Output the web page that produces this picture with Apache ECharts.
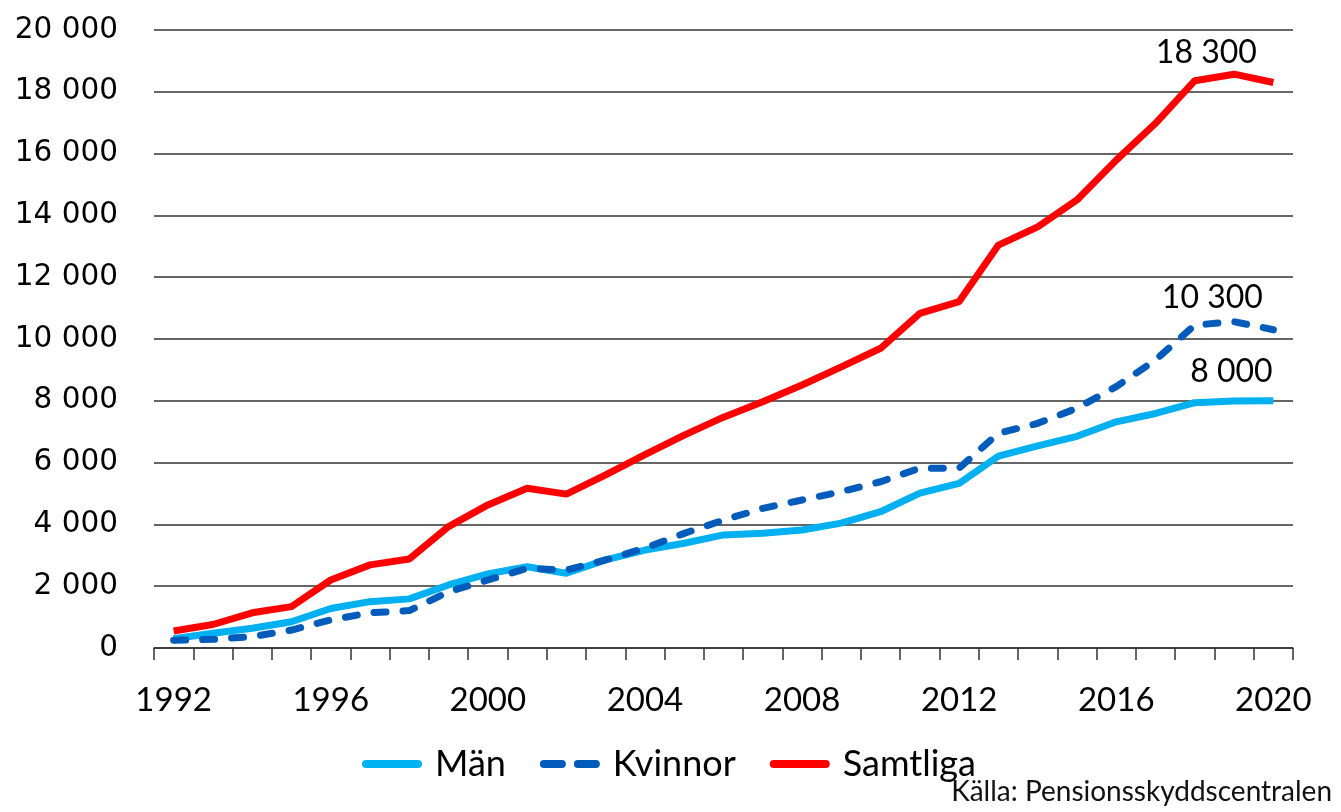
<!DOCTYPE html>
<html>
<head>
<meta charset="utf-8">
<script src="https://cdn.jsdelivr.net/npm/echarts@6/dist/echarts.min.js"></script>
<style>
html,body{margin:0;padding:0;background:#fff;}
#chart{width:1341px;height:812px;}
</style>
</head>
<body>
<div id="chart"></div>
<script>
const years = ['1992','1993','1994','1995','1996','1997','1998','1999','2000','2001','2002','2003','2004','2005','2006','2007','2008','2009','2010','2011','2012','2013','2014','2015','2016','2017','2018','2019','2020'];
const man = [300, 475, 640, 850, 1280, 1500, 1590, 2040, 2400, 2630, 2420, 2850, 3170, 3390, 3660, 3710, 3820, 4040, 4410, 5010, 5330, 6210, 6540, 6850, 7320, 7590, 7940, 7990, 8000];
const kvinnor = [250, 280, 370, 580, 910, 1140, 1210, 1820, 2200, 2580, 2520, 2850, 3230, 3710, 4140, 4520, 4790, 5060, 5380, 5820, 5820, 6950, 7270, 7760, 8460, 9320, 10450, 10560, 10300];
const samtliga = [550, 760, 1140, 1340, 2200, 2690, 2880, 3930, 4630, 5170, 4980, 5600, 6260, 6890, 7470, 7970, 8510, 9100, 9700, 10830, 11210, 13040, 13630, 14500, 15790, 16980, 18360, 18570, 18300];
const seriesNames = ['Män', 'Kvinnor', 'Samtliga'];
const endLabels = ['8 000', '10 300', '18 300'];
const sourceText = 'Källa: Pensionsskyddscentralen';

const chart = echarts.init(document.getElementById('chart'));
const fmt = v => String(v).replace(/\B(?=(\d{3})+(?!\d))/g, ' ');
const lbl = (text, off) => ({
  show: true, formatter: text, distance: 0, offset: off,
  align: 'center', verticalAlign: 'middle',
  fontFamily: 'Lato', fontSize: 32, color: '#000'
});
const solidIcon = 'path://M4,0 H56 A4,4 0 0 1 56,8 H4 A4,4 0 0 1 4,0 Z';
const dashIcon = 'path://M4,0 H22 A4,4 0 0 1 22,8 H4 A4,4 0 0 1 4,0 Z M38,0 H56 A4,4 0 0 1 56,8 H38 A4,4 0 0 1 38,0 Z';
chart.setOption({
  animation: false,
  backgroundColor: '#fff',
  title: {
    text: sourceText, right: 4, bottom: 1,
    textStyle: {fontFamily: 'Lato', fontSize: 28, fontWeight: 'normal', color: '#111'}
  },
  legend: {
    left: 362, top: 744, padding: 0,
    itemWidth: 60, itemHeight: 8, itemGap: 34,
    textStyle: {fontFamily: 'Lato', fontSize: 36, color: '#000', lineHeight: 40, padding: [0, 0, 0, 8]},
    data: [
      {name: seriesNames[0], icon: solidIcon, itemStyle: {color: '#00B0F0'}},
      {name: seriesNames[1], icon: dashIcon, itemStyle: {color: '#005BBB'}},
      {name: seriesNames[2], icon: solidIcon, itemStyle: {color: '#FF0000'}}
    ]
  },
  grid: {left: 154, right: 48, top: 30, bottom: 164, containLabel: false},
  xAxis: {
    type: 'category', data: years, boundaryGap: true,
    axisLine: {lineStyle: {color: '#333', width: 1.5}},
    axisTick: {show: true, interval: 0, length: 12, lineStyle: {color: '#333', width: 1.5}},
    axisLabel: {interval: 3, margin: 36, fontFamily: 'Lato', fontSize: 33, color: '#000'},
    splitLine: {show: false}
  },
  yAxis: {
    type: 'value', min: 0, max: 20000, interval: 2000,
    axisLine: {show: false}, axisTick: {show: false},
    axisLabel: {margin: 36, fontFamily: 'DejaVu Sans', fontSize: 29.5, color: '#000', formatter: fmt},
    splitLine: {show: true, lineStyle: {color: '#333', width: 1.5}}
  },
  series: [
    {name: seriesNames[0], type: 'line', data: man, symbol: 'none', z: 2,
     lineStyle: {color: '#00B0F0', width: 7}, itemStyle: {color: '#00B0F0'},
     endLabel: lbl(endLabels[0], [-42, -29])},
    {name: seriesNames[1], type: 'line', data: kvinnor, symbol: 'none', z: 3,
     lineStyle: {color: '#005BBB', width: 7, type: [12, 17], cap: 'round'}, itemStyle: {color: '#005BBB'},
     endLabel: lbl(endLabels[1], [-61, -32])},
    {name: seriesNames[2], type: 'line', data: samtliga, symbol: 'none', z: 4,
     lineStyle: {color: '#FF0000', width: 7}, itemStyle: {color: '#FF0000'},
     endLabel: lbl(endLabels[2], [-67, -30])}
  ]
});
</script>
</body>
</html>
